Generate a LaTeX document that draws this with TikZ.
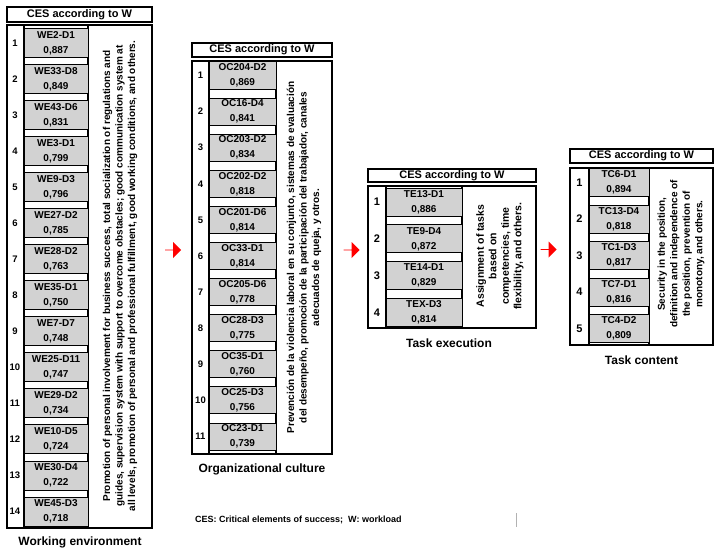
\documentclass[tikz,border=0pt]{standalone}
\usepackage{fontspec}
\setmainfont{Liberation Sans}
\usepackage{tikz}
\usetikzlibrary{positioning, shapes.arrows}

\tikzset{
	frame/.style={draw, line width=1.2pt},
	header/.style={draw, line width=1.2pt, inner sep=0pt, font=\fontsize{11}{13}\selectfont\bfseries},
	cell/.style={draw, line width=1pt, fill=gray!35, inner sep=0pt, align=center, font=\fontsize{10}{11}\selectfont\bfseries},
	rownum/.style={inner sep=0pt, font=\fontsize{9.5}{11}\selectfont\bfseries},
	bignum/.style={inner sep=0pt, font=\fontsize{11}{13}\selectfont\bfseries},
	note/.style={rotate=90, align=center, inner sep=0pt, font=\fontsize{10}{12.5}\selectfont\bfseries},
	caption/.style={inner sep=0pt, font=\fontsize{12}{14}\selectfont\bfseries},
	redarrow/.style={single arrow, fill=red, draw=none, minimum width=16pt, minimum height=16pt, single arrow head extend=3.5pt, single arrow head indent=0pt, inner sep=0pt}
}

\begin{document}
\begin{tikzpicture}[x=1pt,y=-1pt]
	\useasboundingbox[fill=white] (0,0) rectangle (720,551);
	
	% working environment
	\node[header, minimum width=145pt, minimum height=15pt] (hwe) at (79.5,14.5) {CES according to W};
	\draw[frame] (7,25) rectangle (152,528) (24,25) -- (24,528) (88,25) -- (88,528);
	\foreach \id/\val [count=\i, evaluate=\i as \y using 7+36.04*\i] in {WE2-D1/887, WE33-D8/849, WE43-D6/831, WE3-D1/799, WE9-D3/796, WE27-D2/785, WE28-D2/763, WE35-D1/750, WE7-D7/748, WE25-D11/747, WE29-D2/734, WE10-D5/724, WE30-D4/722, WE45-D3/718}
	{
		\node[rownum] (nwe\i) at (15,\y) {\i};
		\node[cell, minimum width=64pt, minimum height=29pt] (we\i) at (56,\y) {\id\\[4pt]0,\val};
	}
	\node[note] (twe) at (120,276) {Promotion of personal involvement for business success, total socialization of regulations and\\guides, supervision system with support to overcome obstacles; good communication system at\\all levels, promotion of personal and professional fulfillment, good working conditions, and others.};
	\node[caption] (cwe) at (80,542) {Working environment};
	
	\node[redarrow] (arr1) at (173,250) {};
	
	% organizational culture
	\node[header, minimum width=140pt, minimum height=14pt] (hoc) at (262,50) {CES according to W};
	\draw[frame] (192,61) rectangle (332,454) (209,61) -- (209,454) (276,61) -- (276,454);
	\foreach \id/\val [count=\i, evaluate=\i as \y using 39.4+36.1*\i] in {OC204-D2/869, OC16-D4/841, OC203-D2/834, OC202-D2/818, OC201-D6/814, OC33-D1/814, OC205-D6/778, OC28-D3/775, OC35-D1/760, OC25-D3/756, OC23-D1/739}
	{
		\node[rownum] (noc\i) at (200.5,\y) {\i};
		\node[cell, minimum width=67pt, minimum height=27pt] (oc\i) at (242.5,\y) {\id\\[4pt]0,\val};
	}
	\node[note] (toc) at (304,257.5) {Prevención de la violencia laboral en su conjunto, sistemas de evaluación\\del desempeño, promoción de la participación del trabajador, canales\\adecuados de queja, y otros.};
	\node[caption] (coc) at (262,469) {Organizational culture};
	
	\node[redarrow] (arr2) at (351.5,250) {};
	
	% task execution
	\node[header, minimum width=168pt, minimum height=13pt] (hte) at (452,175.5) {CES according to W};
	\draw[frame] (368,186) rectangle (536,328) (386,186) -- (386,328) (462,186) -- (462,328);
	\foreach \id/\val [count=\i, evaluate=\i as \y using 165.2+36.8*\i] in {TE13-D1/886, TE9-D4/872, TE14-D1/829, TEX-D3/814}
	{
		\node[bignum] (nte\i) at (377,\y) {\i};
		\node[cell, minimum width=76pt, minimum height=28pt] (te\i) at (424,\y) {\id\\[4pt]0,\val};
	}
	\node[note, font=\fontsize{10.5}{12.5}\selectfont\bfseries] (tte) at (500,256) {Assignment of tasks\\based on\\competencies, time\\flexibility, and others.};
	\node[caption] (cte) at (449,343) {Task execution};
	
	\node[redarrow] (arr3) at (548.5,249.5) {};
	
	% task content
	\node[header, minimum width=143pt, minimum height=14pt] (htc) at (641.5,156) {CES according to W};
	\draw[frame] (570,168) rectangle (713,345) (589,168) -- (589,345) (649,168) -- (649,345);
	\foreach \id/\val [count=\i, evaluate=\i as \y using 146+36.5*\i] in {TC6-D1/894, TC13-D4/818, TC1-D3/817, TC7-D1/816, TC4-D2/809}
	{
		\node[bignum] (ntc\i) at (579.5,\y) {\i};
		\node[cell, minimum width=60pt, minimum height=28pt] (tc\i) at (619,\y) {\id\\[4pt]0,\val};
	}
	\node[note] (ttc) at (681,254) {Security in the position,\\definition and independence of\\the position, prevention of\\monotony, and others.};
	\node[caption] (ctc) at (641.5,360) {Task content};
	
	% legend
	\node[inner sep=0pt, anchor=west, font=\fontsize{9}{11}\selectfont\bfseries] (leg) at (195,520) {CES: Critical elements of success;\ \ W: workload};
	\draw[gray!60, line width=0.6pt] (516,513) -- (516,527);
\end{tikzpicture}
\end{document}
